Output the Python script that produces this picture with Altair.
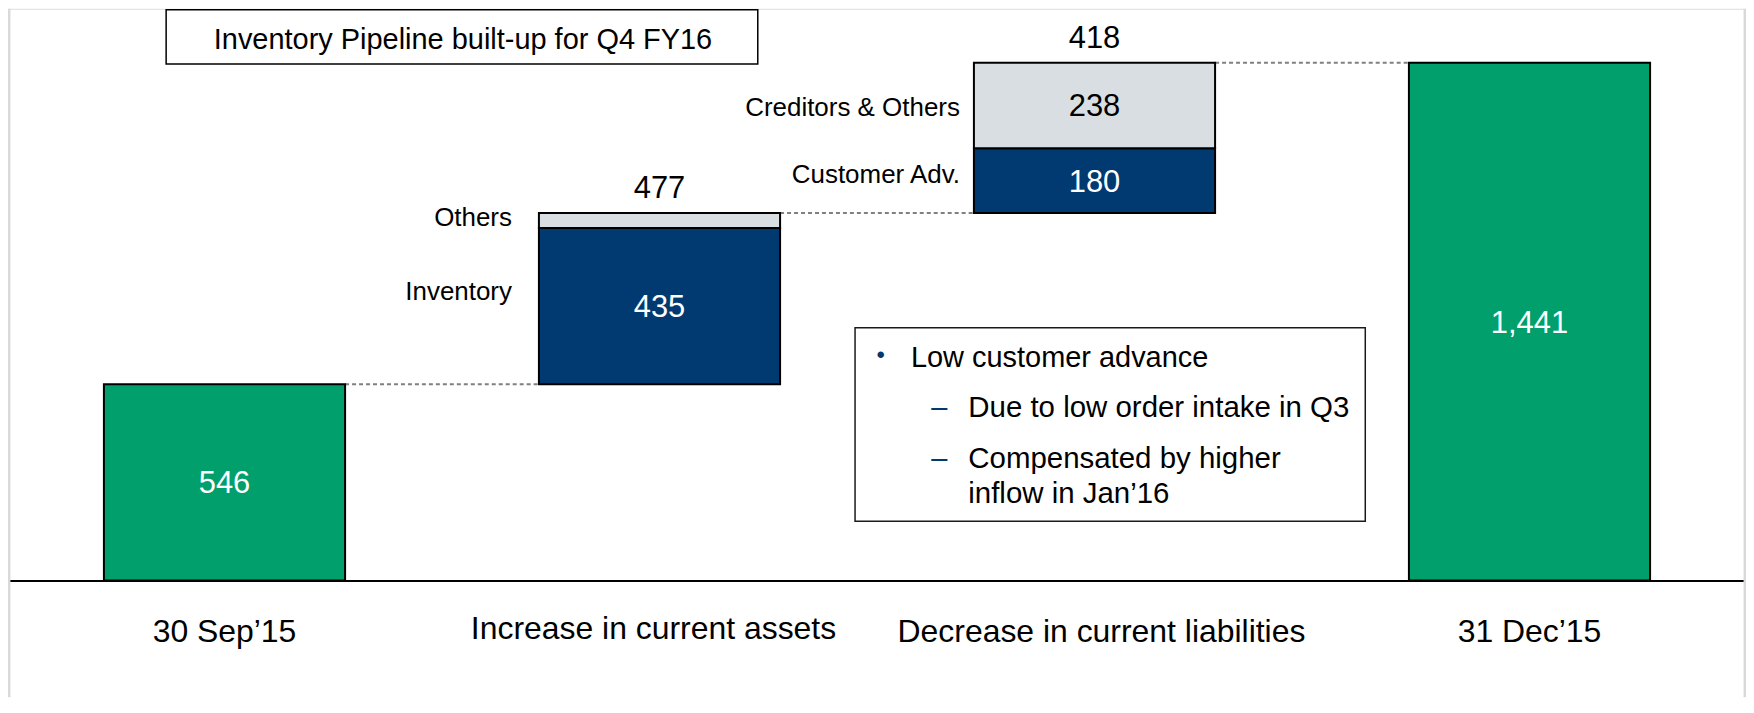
import altair as alt
import pandas as pd

# ---------------- data ----------------
categories = ["30 Sep\u201915", "Increase in current assets",
              "Decrease in current liabilities", "31 Dec\u201915"]
opening_value = 546
asset_items = ["Inventory", "Others"]
asset_values = [435, 42]
liability_items = ["Customer Adv.", "Creditors & Others"]
liability_values = [180, 238]
closing_value = 1441

title_text = "Inventory Pipeline built-up for Q4 FY16"
note_bullet = "Low customer advance"
note_subs = ["Due to low order intake in Q3", "Compensated by higher", "inflow in Jan\u201916"]

GREEN = "#009F6B"
NAVY = "#003A70"
LIGHT = "#D9DEE2"
FONT = "Liberation Sans"

# ---------------- derived tables ----------------
rows = [dict(cat=categories[0], item="Opening", kind="total", y0=0, y1=opening_value, val=opening_value)]
base = opening_value
for name, v, kind in zip(asset_items, asset_values, ["main", "other"]):
    rows.append(dict(cat=categories[1], item=name, kind=kind, y0=base, y1=base + v, val=v))
    base += v
after_assets = base
for name, v, kind in zip(liability_items, liability_values, ["main", "other"]):
    rows.append(dict(cat=categories[2], item=name, kind=kind, y0=base, y1=base + v, val=v))
    base += v
after_liab = base
rows.append(dict(cat=categories[3], item="Closing", kind="total", y0=0, y1=closing_value, val=closing_value))
seg = pd.DataFrame(rows)
seg["mid"] = (seg["y0"] + seg["y1"]) / 2
seg["tcolor"] = ["white" if k != "other" else "black" for k in seg["kind"]]

labels_in = seg[seg["item"] != "Others"].copy()

totals = pd.DataFrame({
    "cat": [categories[1], categories[2]],
    "top": [after_assets, after_liab],
    "total": [sum(asset_values), sum(liability_values)],
})

connectors = pd.DataFrame({
    "from": categories[:3],
    "to": categories[1:],
    "level": [opening_value, after_assets, after_liab],
})

one = pd.DataFrame({"k": [0]})

# ---------------- scales ----------------
W, H = 1742, 573
xs = alt.Scale(domain=categories, paddingInner=0.4456, paddingOuter=0.2205)
ys = alt.Scale(domain=[0, 1591], nice=False, zero=False)
ax = alt.Axis(
    title=None, labelAngle=0, labelFontSize=32, labelColor="black",
    labelFont=FONT, ticks=False, tickSize=0,
    labelPadding={"condition": {"test": f"datum.value === '{categories[1]}'", "value": 58.5}, "value": 61},
    labelOffset={"condition": [
        {"test": f"datum.value === '{categories[1]}'", "value": -6},
        {"test": f"datum.value === '{categories[2]}'", "value": 7},
    ], "value": 0},
    labelBaseline="alphabetic", labelLimit=1000, labelOverlap=False,
    domainColor="black", domainWidth=2, grid=False)


def X(field, bp=None):
    if bp is None:
        return alt.X(field, scale=xs, sort=categories, axis=ax)
    return alt.X(field, scale=xs, sort=categories, axis=ax, bandPosition=bp)


Y = lambda field: alt.Y(field, scale=ys, axis=None)

# ---------------- layers ----------------
frame = alt.Chart(one).mark_rule(color="#D9D9D9", strokeWidth=2.5).encode(
    x=alt.value(1.2), y=alt.value(0), y2=alt.value(690))
frame_r = alt.Chart(one).mark_rule(color="#D9D9D9", strokeWidth=2.5).encode(
    x=alt.value(W - 1.2), y=alt.value(0), y2=alt.value(690))

conn = alt.Chart(connectors).mark_rule(color="#808080", strokeWidth=2, strokeDash=[4, 3]).encode(
    x=X("from:N", 1),
    x2=alt.X2("to:N", bandPosition=0),
    y=Y("level:Q"),
)

bars = alt.Chart(seg).mark_bar(stroke="black", strokeWidth=2).encode(
    x=X("cat:N"),
    y=Y("y0:Q"),
    y2="y1:Q",
    color=alt.Color("kind:N", scale=alt.Scale(domain=["total", "main", "other"],
                                              range=[GREEN, NAVY, LIGHT]), legend=None),
)

vals = alt.Chart(labels_in).mark_text(fontSize=31, font=FONT, baseline="middle", dy=2).encode(
    x=X("cat:N"),
    y=Y("mid:Q"),
    text=alt.Text("val:Q", format=","),
    color=alt.Color("tcolor:N", scale=None),
)

tot = alt.Chart(totals).mark_text(fontSize=31, font=FONT, baseline="alphabetic", dy=-15, color="black").encode(
    x=X("cat:N"),
    y=Y("top:Q"),
    text=alt.Text("total:Q", format=","),
)

side_style = {"Inventory": (-27, -14), "Others": (-27, -2),
              "Customer Adv.": (-14, -5.5), "Creditors & Others": (-14, 3)}
side_layers = []
for name, (dx, dy) in side_style.items():
    side_layers.append(
        alt.Chart(seg[seg["item"] == name]).mark_text(
            fontSize=26, font=FONT, align="right", baseline="middle", dx=dx, dy=dy, color="black"
        ).encode(x=X("cat:N", 0), y=Y("mid:Q"), text="item:N")
    )

title_box = alt.Chart(one).mark_rect(fill="white", stroke="black", strokeWidth=1.5).encode(
    x=alt.value(158.5), x2=alt.value(751.5), y=alt.value(1), y2=alt.value(55.3))
title_txt = alt.Chart(one).mark_text(text=title_text, fontSize=29, font=FONT, align="center",
                                     baseline="middle", color="black").encode(
    x=alt.value(456), y=alt.value(31))

note_box = alt.Chart(one).mark_rect(fill="white", stroke="#1a1a1a", strokeWidth=1.5).encode(
    x=alt.value(849), x2=alt.value(1360.4), y=alt.value(319.7), y2=alt.value(513.7))
bullet = alt.Chart(one).mark_text(text="\u2022", fontSize=24, font=FONT, align="center",
                                  baseline="alphabetic", color=NAVY).encode(
    x=alt.value(874.7), y=alt.value(355.5))
note_layers = [note_box, bullet,
               alt.Chart(one).mark_text(text=note_bullet, fontSize=29, font=FONT, align="left",
                                        baseline="alphabetic", color="black").encode(
                   x=alt.value(905), y=alt.value(358.7))]
sub_y = [408.7, 460.3, 495.3]
for i, (txt, yy) in enumerate(zip(note_subs, sub_y)):
    if i < 2:
        note_layers.append(alt.Chart(one).mark_text(text="\u2013", fontSize=29, font=FONT, align="center",
                                                    baseline="alphabetic", color=NAVY).encode(
            x=alt.value(933.5), y=alt.value(yy)))
    note_layers.append(alt.Chart(one).mark_text(text=txt, fontSize=29.5, font=FONT, align="left",
                                                baseline="alphabetic", color="black").encode(
        x=alt.value(962.5), y=alt.value(yy)))

chart = alt.layer(
    frame, frame_r, conn, bars, vals, tot, *side_layers, title_box, title_txt, *note_layers
).properties(
    width=W, height=H,
    autosize=alt.AutoSizeParams(type="none"),
    padding={"left": 0, "top": 0, "right": 0, "bottom": 117},
    background="white",
).configure_view(strokeWidth=0).configure(font=FONT)

chart.save("out.html", embed_options={"renderer": "svg", "actions": False})
